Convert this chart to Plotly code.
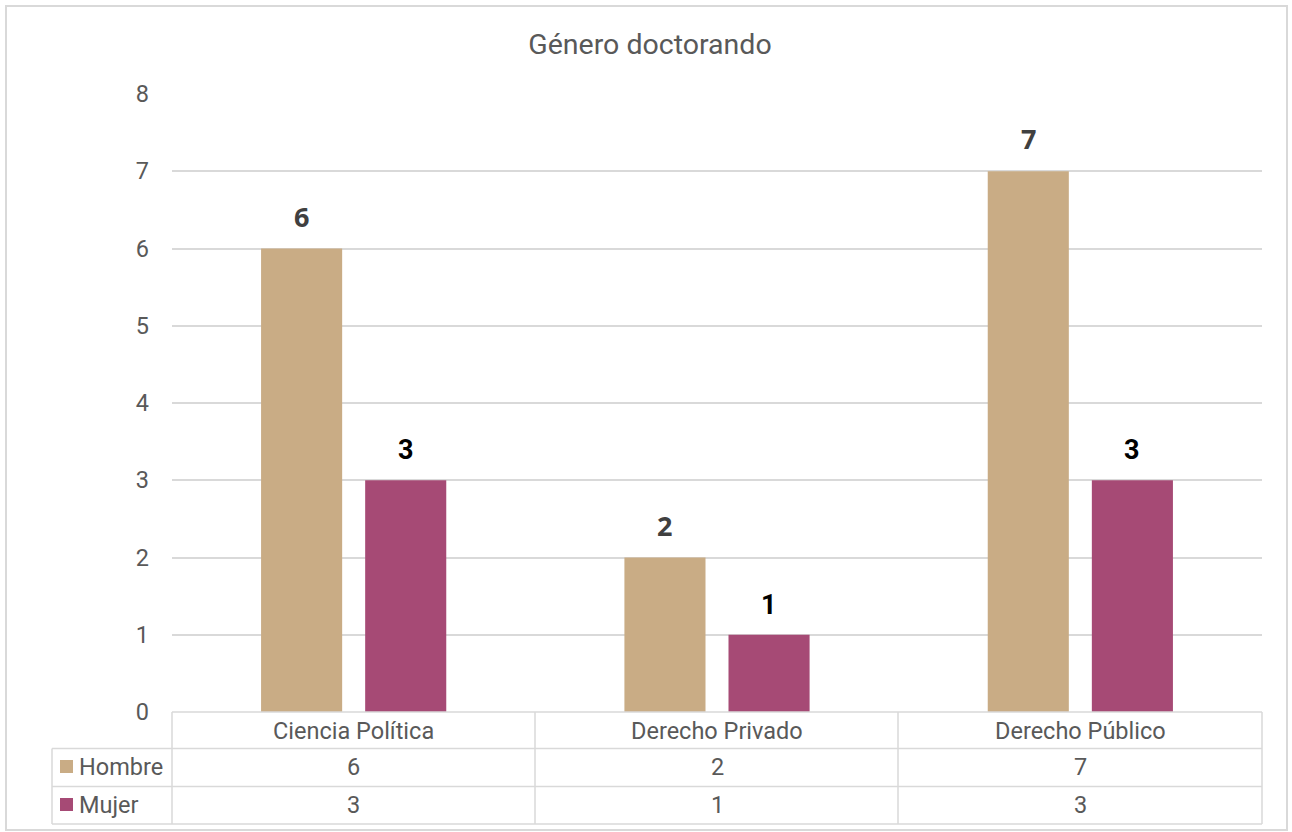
import plotly.graph_objects as go

categories = ["Ciencia Política", "Derecho Privado", "Derecho Público"]
hombre = [6, 2, 7]
mujer = [3, 1, 3]
series_names = ["Hombre", "Mujer"]
title_text = "Género doctorando"
y_ticks = [0, 1, 2, 3, 4, 5, 6, 7, 8]

COL_H = "#C9AC85"
COL_M = "#A64A75"
GRID = "#D9D9D9"
TXT = "#595959"
FONT = "Roboto"

W, H = 1292, 832
ML, MR, MT, MB = 172, 30, 94, 120
PW = W - ML - MR
PH = H - MT - MB
BARGAP = 0.427
BARGROUPGAP = 0.221


def px_x(px):
    return (px - ML) / PW


def px_y(py):
    return (H - MB - py) / PH


fig = go.Figure()
for name, vals, col in [(series_names[0], hombre, COL_H), (series_names[1], mujer, COL_M)]:
    fig.add_trace(go.Bar(
        x=categories, y=vals, name=name, marker=dict(color=col, line=dict(width=0)),
        showlegend=False, hoverinfo="x+y+name",
    ))

shapes = []
# outer border
shapes.append(dict(type="rect", xref="paper", yref="paper",
                   x0=px_x(6), x1=px_x(1287), y0=px_y(830), y1=px_y(6),
                   line=dict(color=GRID, width=2), layer="below"))
# table lines
row_y = [712, 748.5, 786.5, 824]
col_x = [172, 535, 898, 1262]
line_style = dict(color=GRID, width=1.5)
shapes.append(dict(type="line", xref="paper", yref="paper", x0=px_x(172), x1=px_x(1262),
                   y0=px_y(712), y1=px_y(712), line=line_style))
for ry in row_y[1:]:
    shapes.append(dict(type="line", xref="paper", yref="paper", x0=px_x(52), x1=px_x(1262),
                       y0=px_y(ry), y1=px_y(ry), line=line_style))
for cx in col_x:
    shapes.append(dict(type="line", xref="paper", yref="paper", x0=px_x(cx), x1=px_x(cx),
                       y0=px_y(712), y1=px_y(824), line=line_style))
shapes.append(dict(type="line", xref="paper", yref="paper", x0=px_x(52), x1=px_x(52),
                   y0=px_y(748.5), y1=px_y(824), line=line_style))
# legend keys
for col, yc in [(COL_H, 766.5), (COL_M, 804.5)]:
    shapes.append(dict(type="rect", xref="paper", yref="paper",
                       x0=px_x(60), x1=px_x(73), y0=px_y(yc + 6.5), y1=px_y(yc - 6.5),
                       fillcolor=col, line=dict(width=0)))

annotations = []
tfont = dict(family=FONT, size=23.5, color=TXT)
for i, c in enumerate(categories):
    annotations.append(dict(x=c, xref="x", y=px_y(730.5), yref="paper", text=c,
                            showarrow=False, font=tfont, xanchor="center", yanchor="middle"))
    annotations.append(dict(x=c, xref="x", y=px_y(767), yref="paper", text=str(hombre[i]),
                            showarrow=False, font=tfont, xanchor="center", yanchor="middle"))
    annotations.append(dict(x=c, xref="x", y=px_y(805), yref="paper", text=str(mujer[i]),
                            showarrow=False, font=tfont, xanchor="center", yanchor="middle"))
for name, yc in [(series_names[0], 767), (series_names[1], 805)]:
    annotations.append(dict(x=px_x(77), xref="paper", y=px_y(yc), yref="paper", text=name,
                            showarrow=False, font=tfont, xanchor="left", yanchor="middle"))

# data labels above bars (offset of each bar within its group from bargap settings)
slot = PW / len(categories) * (1 - BARGAP) / 2
label_styles = [
    (hombre, -1, dict(family="Open Sans", size=27, color="#404040", weight="bold")),
    (mujer, 1, dict(family=FONT, size=27, color="#000000", weight="bold")),
]
for vals, sgn, lfont in label_styles:
    for c, v in zip(categories, vals):
        annotations.append(dict(x=c, xref="x", y=v, yref="y", text=str(v), showarrow=False,
                                font=lfont, xanchor="center", yanchor="bottom",
                                xshift=sgn * slot / 2, yshift=12))

fig.update_layout(
    width=W, height=H,
    margin=dict(l=ML, r=MR, t=MT, b=MB),
    paper_bgcolor="white", plot_bgcolor="white",
    barmode="group", bargap=BARGAP, bargroupgap=BARGROUPGAP,
    title=dict(text=title_text, x=650 / W, xref="container", xanchor="center",
               y=1 - 44 / H, yref="container", yanchor="middle",
               font=dict(family=FONT, size=28.5, color=TXT)),
    font=dict(family=FONT, color=TXT),
    xaxis=dict(showticklabels=False, showgrid=False, zeroline=False, showline=False, ticks=""),
    yaxis=dict(range=[0, 8], tickvals=y_ticks, showgrid=True, gridcolor=GRID, gridwidth=1.5,
               zeroline=False, showline=False, ticks="", ticklabelstandoff=22,
               tickfont=dict(family=FONT, size=23.5, color=TXT)),
    shapes=shapes, annotations=annotations,
)

fig.write_html("out.html", config={"displayModeBar": False},
               post_script="document.body.style.margin='0px';")
